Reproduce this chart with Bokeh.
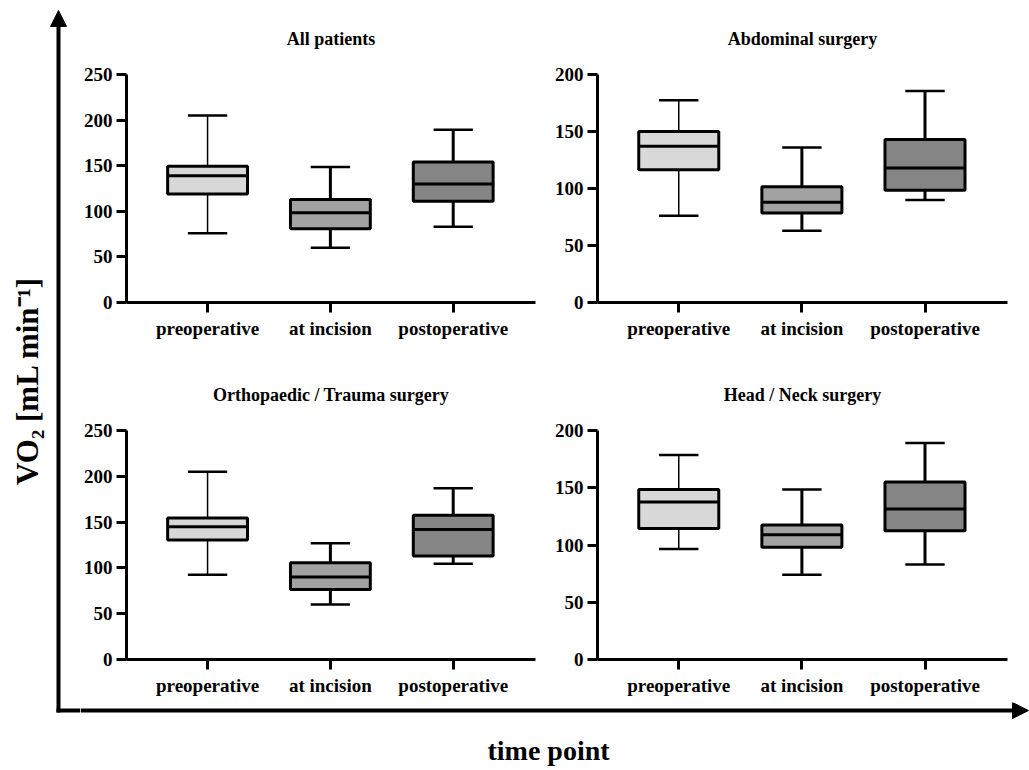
import math
from bokeh.plotting import figure
from bokeh.layouts import row, column
from bokeh.models import Range1d, FixedTicker, Arrow, NormalHead, ColumnDataSource
from bokeh.core.properties import value
from bokeh.embed import file_html
from bokeh.resources import INLINE

# ---------------- data ----------------
categories = ["preoperative", "at incision", "postoperative"]
panel_titles = ["All patients", "Abdominal surgery",
                "Orthopaedic / Trauma surgery", "Head / Neck surgery"]
y_max = [250, 200, 250, 200]
y_ticks_250 = [0, 50, 100, 150, 200, 250]
y_ticks_200 = [0, 50, 100, 150, 200]

all_lower = [76, 60, 83]
all_q1 = [119, 81, 111]
all_median = [139, 98.5, 130]
all_q3 = [149.5, 113, 154]
all_upper = [205, 148.5, 189.5]

abd_lower = [76, 63, 90]
abd_q1 = [116.5, 78.5, 98.5]
abd_median = [137, 88, 118]
abd_q3 = [150, 101.5, 143]
abd_upper = [177.5, 136, 185.5]

ortho_lower = [92.5, 60, 104.5]
ortho_q1 = [130.5, 76.5, 113]
ortho_median = [145, 90, 142]
ortho_q3 = [154.5, 105.5, 157.5]
ortho_upper = [205, 127, 187]

head_lower = [96.5, 74, 83]
head_q1 = [114.5, 98, 112.5]
head_median = [137.5, 109, 131.5]
head_q3 = [148.5, 117.5, 155]
head_upper = [178.5, 148.5, 189]

box_colors = ["#d8d8d8", "#a2a2a2", "#858585"]
stem_widths = [1.5, 3, 3]

y_label = "VO\u2082 [mL min\u207b\u00b9]"
x_label = "time point"

FONT = "Liberation Serif"
BOX_W = 0.65
CAP_W = 0.32


def make_panel(title, lower, q1, med, q3, upper, ymax, ticks,
               width, height, bl, br, bt, bb):
    p = figure(width=width, height=height,
               x_range=Range1d(0.34, 3.67), y_range=Range1d(0, ymax),
               output_backend="svg", toolbar_location=None,
               min_border_left=bl, min_border_right=br,
               min_border_top=bt, min_border_bottom=bb)
    p.title.text = title
    p.title.align = "center"
    p.title.text_font = FONT
    p.title.text_font_style = "bold"
    p.title.text_font_size = "18px"
    p.title.text_color = "black"
    p.title.standoff = 52
    p.outline_line_color = None
    p.background_fill_color = "white"
    p.border_fill_color = "white"
    p.xgrid.visible = False
    p.ygrid.visible = False

    xs = [i + 1 for i in range(len(categories))]
    src = ColumnDataSource(dict(
        x=xs,
        lower=lower, q1=q1, med=med, q3=q3, upper=upper,
        bx0=[x - BOX_W / 2 for x in xs], bx1=[x + BOX_W / 2 for x in xs],
        cx0=[x - CAP_W / 2 for x in xs], cx1=[x + CAP_W / 2 for x in xs],
        color=box_colors, sw=stem_widths,
    ))
    # whisker stems
    p.segment(x0="x", x1="x", y0="q3", y1="upper", line_color="black",
              line_width="sw", source=src)
    p.segment(x0="x", x1="x", y0="lower", y1="q1", line_color="black",
              line_width="sw", source=src)
    # caps
    p.segment(x0="cx0", x1="cx1", y0="upper", y1="upper", line_color="black",
              line_width=2.5, source=src)
    p.segment(x0="cx0", x1="cx1", y0="lower", y1="lower", line_color="black",
              line_width=2.5, source=src)
    # boxes
    p.vbar(x="x", width=BOX_W, bottom="q1", top="q3", fill_color="color",
           line_color="black", line_width=3, source=src)
    # medians
    p.segment(x0="bx0", x1="bx1", y0="med", y1="med", line_color="black",
              line_width=3, source=src)

    p.xaxis.ticker = FixedTicker(ticks=xs)
    p.xaxis.major_label_overrides = {x: c for x, c in zip(xs, categories)}
    p.yaxis.ticker = FixedTicker(ticks=ticks)
    for ax in (p.xaxis, p.yaxis):
        ax.axis_line_width = 3
        ax.axis_line_color = "black"
        ax.major_tick_line_width = 3
        ax.major_tick_line_color = "black"
        ax.major_tick_out = 10
        ax.major_tick_in = 0
        ax.minor_tick_line_color = None
        ax.major_label_text_font = FONT
        ax.major_label_text_font_style = "bold"
        ax.major_label_text_font_size = "19px"
        ax.major_label_text_color = "black"
    p.xaxis.major_label_standoff = 5
    p.yaxis.major_label_standoff = 4
    return p


p1 = make_panel(panel_titles[0], all_lower, all_q1, all_median, all_q3, all_upper,
                y_max[0], y_ticks_250, 465, 345, 46, 10, 73, 43)
p2 = make_panel(panel_titles[1], abd_lower, abd_q1, abd_median, abd_q3, abd_upper,
                y_max[1], y_ticks_200, 484, 345, 52, 22, 73, 43)
p3 = make_panel(panel_titles[2], ortho_lower, ortho_q1, ortho_median, ortho_q3, ortho_upper,
                y_max[2], y_ticks_250, 465, 357, 46, 10, 85, 43)
p4 = make_panel(panel_titles[3], head_lower, head_q1, head_median, head_q3, head_upper,
                y_max[3], y_ticks_200, 484, 357, 52, 22, 85, 43)


def deco_fig(width, height, xr, yr):
    f = figure(width=width, height=height, x_range=xr, y_range=yr,
               output_backend="svg", toolbar_location=None, min_border=0)
    f.axis.visible = False
    f.xgrid.visible = False
    f.ygrid.visible = False
    f.outline_line_color = None
    f.background_fill_color = "white"
    f.border_fill_color = "white"
    return f


# left strip: vertical arrow + y label (data units == pixels, y up)
L = deco_fig(80, 770, Range1d(0, 80), Range1d(0, 770))
L.add_layout(Arrow(x_start=58, y_start=58, x_end=58, y_end=760,
                   line_width=4, line_color="black",
                   end=NormalHead(size=16, fill_color="black", line_color="black")))
L.segment(x0=[56], x1=[80], y0=[60], y1=[60], line_width=4, line_color="black")
L.text(x=[27], y=[390], text=[y_label], angle=math.pi / 2,
       text_align="center", text_baseline="middle",
       text_font=value(FONT), text_font_style="bold", text_font_size="31px",
       text_color="black")

# bottom strip: horizontal arrow + x label
B = deco_fig(949, 68, Range1d(80, 1029), Range1d(0, 68))
B.add_layout(Arrow(x_start=80, y_start=60, x_end=1028, y_end=60,
                   line_width=4, line_color="black",
                   end=NormalHead(size=16, fill_color="black", line_color="black")))
B.text(x=[548], y=[20], text=[x_label], text_align="center",
       text_baseline="middle", text_font=value(FONT),
       text_font_style="bold", text_font_size="28px", text_color="black")

layout = row(L, column(row(p1, p2), row(p3, p4), B))

open("out.html", "w").write(file_html(layout, INLINE))
